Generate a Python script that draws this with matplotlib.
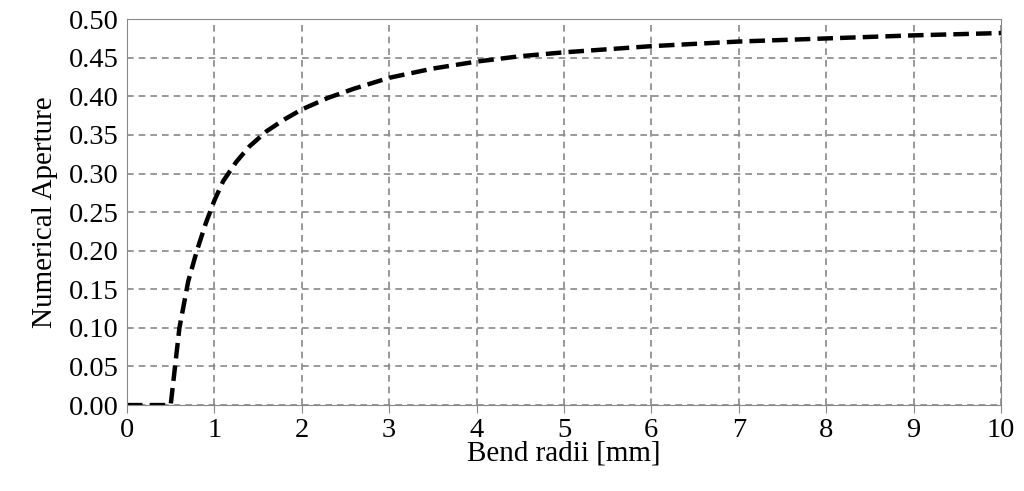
import matplotlib
matplotlib.use("Agg")
import matplotlib.pyplot as plt

radius = [0, 0.5, 0.55, 0.6, 0.7, 0.8, 0.9, 1.0, 1.1, 1.25, 1.4, 1.6, 1.8, 2.0, 2.3, 2.6, 3.0, 3.5, 4.0, 4.5, 5.0, 6.0, 7.0, 8.0, 9.0, 10.0]
na = [0, 0, 0.05, 0.10, 0.16, 0.20, 0.235, 0.265, 0.29, 0.315, 0.335, 0.355, 0.37, 0.383, 0.398, 0.41, 0.424, 0.436, 0.445, 0.452, 0.457, 0.465, 0.471, 0.475, 0.479, 0.482]

plt.rcParams['font.family'] = ['Liberation Serif', 'DejaVu Serif']
fig = plt.figure(figsize=(10.24, 4.91), dpi=100)
ax = fig.add_axes([0.124, 0.175, 0.8535, 0.786])
ax.plot(radius, na, color='black', lw=3.2, ls=(0, (3.5, 1.6)))
ax.set_xlim(0, 10)
ax.set_ylim(0, 0.5)
ax.set_xticks(range(0, 11))
ax.set_yticks([i * 0.05 for i in range(11)])
ax.set_yticklabels([f"{i*0.05:.2f}" for i in range(11)])
ax.grid(True, color='#888888', ls=(0, (4, 3)), lw=1.2)
ax.tick_params(labelsize=20.5, length=6, color='#888888')
ax.tick_params(axis='y', length=0, pad=6)
for s in ax.spines.values():
    s.set_color('#888888')
ax.set_xlabel("Bend radii [mm]", fontsize=21, labelpad=-2)
ax.set_ylabel("Numerical Aperture", fontsize=21, labelpad=8)
fig.savefig("out.png", dpi=100)
